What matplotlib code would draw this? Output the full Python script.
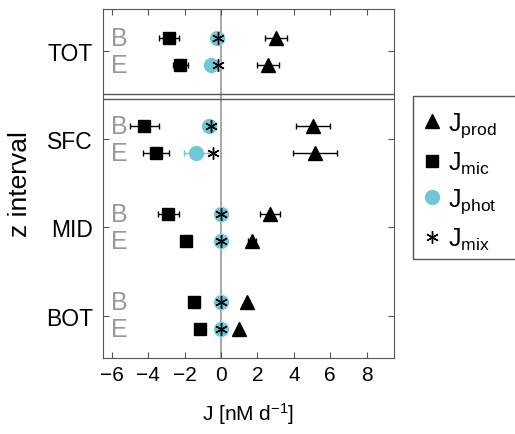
import matplotlib.pyplot as plt
from matplotlib.patches import Rectangle
import numpy as np

plt.rcParams['font.family'] = ['Liberation Sans', 'DejaVu Sans']
plt.rcParams['mathtext.default'] = 'regular'

intervals = ['BOT', 'MID', 'SFC', 'TOT']
# values per interval, order BOT, MID, SFC, TOT
prod_B = [1.42, 2.67, 5.04, 3.04]
prod_B_err = [0.0, 0.55, 0.95, 0.6]
prod_E = [1.0, 1.7, 5.18, 2.6]
prod_E_err = [0.0, 0.2, 1.2, 0.6]
mic_B = [-1.49, -2.9, -4.22, -2.87]
mic_B_err = [0.0, 0.57, 0.8, 0.55]
mic_E = [-1.18, -1.95, -3.58, -2.24]
mic_E_err = [0.0, 0.2, 0.7, 0.4]
phot_B = [0.0, 0.0, -0.67, -0.2]
phot_B_err = [0.0, 0.0, 0.1, 0.0]
phot_E = [0.0, 0.0, -1.36, -0.55]
phot_E_err = [0.0, 0.0, 0.7, 0.0]
mix_B = [0.0, 0.0, -0.55, -0.15]
mix_E = [0.0, 0.0, -0.42, -0.18]

cyan = '#6fc8d6'
y = np.arange(1, len(intervals) + 1)
off = 0.15

fig = plt.figure(figsize=(5.15, 4.35), dpi=100)
ax = fig.add_axes([0.1995, 0.175, 0.5655, 0.802])

ax.axvline(0, color='#999999', lw=1.2, zorder=0)
# double line between TOT and the depth intervals
ax.axhline(3.46, color='#555555', lw=1.0)
ax.axhline(3.52, color='#555555', lw=1.0)

ekw = dict(ls='none', ecolor='black', elinewidth=1, capsize=2.5, capthick=1)
for yy, xs, es in [(y + off, phot_B, phot_B_err), (y - off, phot_E, phot_E_err)]:
    ax.errorbar(xs, yy, xerr=es, fmt='o', color=cyan, ms=10, ls='none',
                ecolor=cyan, elinewidth=1, capsize=2.5, zorder=3)
ax.plot(mix_B, y + off, ls='none', marker=(6, 2, 0), color='black', ms=9, mew=1, zorder=4)
ax.plot(mix_E, y - off, ls='none', marker=(6, 2, 0), color='black', ms=9, mew=1, zorder=4)
ax.errorbar(mic_B, y + off, xerr=mic_B_err, fmt='s', color='black', ms=9, **ekw)
ax.errorbar(mic_E, y - off, xerr=mic_E_err, fmt='s', color='black', ms=9, **ekw)
ax.errorbar(prod_B, y + off, xerr=prod_B_err, fmt='^', color='black', ms=10, **ekw)
ax.errorbar(prod_E, y - off, xerr=prod_E_err, fmt='^', color='black', ms=10, **ekw)

for yy in y:
    ax.text(-5.6, yy + off, 'B', color='#999999', fontsize=18, ha='center', va='center')
    ax.text(-5.6, yy - off, 'E', color='#999999', fontsize=18, ha='center', va='center')

ax.set_xlim(-6.5, 9.5)
ax.set_ylim(0.52, 4.48)
ax.set_xticks(np.arange(-6, 9, 2))
ax.set_yticks(y)
ax.set_yticklabels(intervals)
ax.tick_params(direction='in', top=True, right=True, length=4, color='#555555')
ax.tick_params(axis='x', labelsize=15, pad=5)
ax.tick_params(axis='y', labelsize=16.5, pad=7)
for s in ax.spines.values():
    s.set_color('#555555')
ax.set_xlabel('J [nM d$^{-1}$]', fontsize=15, labelpad=12)
ax.set_ylabel('z interval', fontsize=19, labelpad=10)

handles = [
    plt.Line2D([], [], ls='none', marker='^', color='black', ms=10),
    plt.Line2D([], [], ls='none', marker='s', color='black', ms=8),
    plt.Line2D([], [], ls='none', marker='o', color=cyan, ms=10),
    plt.Line2D([], [], ls='none', marker=(6, 2, 0), color='black', ms=9, mew=1),
]
labels = ['J$_{prod}$', 'J$_{mic}$', 'J$_{phot}$', 'J$_{mix}$']
fig.legend(handles, labels, loc='upper left', bbox_to_anchor=(0.802, 0.761),
           borderaxespad=0, fontsize=18, frameon=False,
           handlelength=0.9, handletextpad=0.2, labelspacing=0.42, borderpad=0.3)
# legend frame runs off the right edge like in the original
fig.patches.append(Rectangle((413 / 515, 1 - 260 / 435), 0.25, 163 / 435,
                             transform=fig.transFigure, fill=False,
                             ec='#555555', lw=1.0))

fig.savefig('out.png', dpi=100)
